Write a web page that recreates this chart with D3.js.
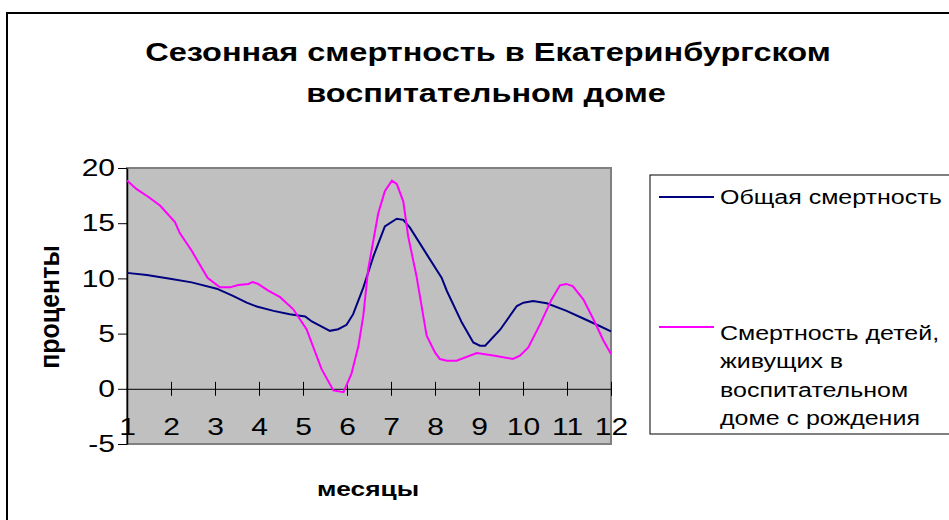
<!DOCTYPE html>
<html>
<head>
<meta charset="utf-8">
<script src="https://cdn.jsdelivr.net/npm/d3@7"></script>
<style>
  html, body { margin: 0; padding: 0; background: #fff; }
  svg { display: block; font-family: "Liberation Sans", Arial, sans-serif; }
</style>
</head>
<body>
<svg id="chart" width="949" height="520"></svg>
<script>
// Month positions (fractional) and values
const aMonthsTotal = [1, 1.45, 1.98, 2.47, 3.04, 3.42, 3.72, 3.95, 4.33, 4.7, 5.05, 5.2, 5.61, 5.8, 5.99,
  6.14, 6.37, 6.6, 6.86, 7.13, 7.28, 7.43, 7.81, 8.15, 8.27, 8.61, 8.87, 9.02, 9.14, 9.48, 9.86,
  10.01, 10.23, 10.54, 10.99, 11.37, 11.68, 12];
const aTotalValues = [10.5, 10.3, 9.97, 9.64, 9.07, 8.4, 7.8, 7.45, 7.06, 6.76, 6.55, 6.1, 5.25, 5.4, 5.8,
  6.76, 9.16, 12.0, 14.7, 15.4, 15.3, 14.6, 12.2, 10.06, 8.86, 6.0, 4.2, 3.9, 3.9, 5.35, 7.5,
  7.8, 7.96, 7.75, 7.06, 6.37, 5.8, 5.2];

const aMonthsChildren = [1, 1.22, 1.48, 1.75, 2.09, 2.2, 2.47, 2.83, 3.11, 3.34, 3.53, 3.76, 3.85, 3.97,
  4.21, 4.48, 4.78, 5.08, 5.42, 5.69, 5.92, 6.1, 6.26, 6.37, 6.48, 6.71, 6.86, 7.02, 7.13, 7.28,
  7.39, 7.58, 7.81, 8.0, 8.11, 8.27, 8.49, 8.95, 9.36, 9.77, 9.93, 10.12, 10.39, 10.65, 10.84,
  10.98, 11.13, 11.37, 11.6, 11.83, 12];
const aChildrenValues = [18.86, 18.08, 17.4, 16.6, 15.1, 14.1, 12.5, 10.06, 9.19, 9.19, 9.4, 9.5, 9.67, 9.52,
  8.9, 8.3, 7.2, 5.4, 1.8, -0.15, -0.3, 1.35, 3.9, 6.6, 10.8, 15.9, 17.9, 18.86, 18.56, 16.96,
  13.8, 10.2, 4.8, 3.3, 2.7, 2.55, 2.55, 3.24, 3.0, 2.7, 3.0, 3.75, 5.86, 8.1, 9.37,
  9.5, 9.3, 8.1, 6.3, 4.35, 3.15];

const aXTicks = [1, 2, 3, 4, 5, 6, 7, 8, 9, 10, 11, 12];
const aYTicks = [-5, 0, 5, 10, 15, 20];

const aSeries = [
  { sName: ['Общая смертность'], sColour: '#000080', aX: aMonthsTotal, aY: aTotalValues },
  { sName: ['Смертность детей,', 'живущих в', 'воспитательном', 'доме с рождения'], sColour: '#ff00ff',
    aX: aMonthsChildren, aY: aChildrenValues }
];

const oSvg = d3.select('#chart');
const jPlot = { l: 127, r: 611, t: 168, b: 444 };
// the source picture is stretched sideways, so text is too
const fStretch = 1.25;

// Add a text whose glyphs are widened like in the source
const fnText = (iX, iY, sText, iSize, sWeight = 'normal', sAnchor = 'start', sRotate = '', fScale = fStretch) => oSvg.append('text')
  .attr('transform', `translate(${iX}, ${iY}) scale(${fScale}, 1) ${sRotate}`)
  .attr('text-anchor', sAnchor)
  .attr('font-size', iSize)
  .attr('font-weight', sWeight)
  .attr('fill', '#000')
  .text(sText);

// Outer chart frame
oSvg.append('rect')
  .attr('x', 7).attr('y', 13).attr('width', 980).attr('height', 560)
  .attr('fill', 'none').attr('stroke', '#000').attr('stroke-width', 2);

// Title
fnText(488, 61, 'Сезонная смертность в Екатеринбургском', 26, 'bold', 'middle');
fnText(486, 102, 'воспитательном доме', 26, 'bold', 'middle');

const oX = d3.scaleLinear().domain([1, 12]).range([jPlot.l, jPlot.r]);
const oY = d3.scaleLinear().domain([-5, 20]).range([jPlot.b, jPlot.t]);

// Plot area
oSvg.append('rect')
  .attr('x', jPlot.l).attr('y', jPlot.t)
  .attr('width', jPlot.r - jPlot.l).attr('height', jPlot.b - jPlot.t)
  .attr('fill', '#c0c0c0').attr('stroke', '#808080').attr('stroke-width', 2);

// Y axis
const oYAxisG = oSvg.append('g')
  .attr('transform', `translate(${jPlot.l}, 0)`)
  .call(d3.axisLeft(oY).tickValues(aYTicks).tickFormat(d => String(d))
    .tickSize(9).tickSizeOuter(0).tickPadding(0.6));
oYAxisG.select('.domain').attr('stroke', '#000').attr('stroke-width', 1.5);
oYAxisG.selectAll('.tick line').attr('stroke', '#000');
oYAxisG.selectAll('.tick text')
  .attr('transform', `scale(${fStretch}, 1)`)
  .attr('font-size', 24).attr('font-family', '"Liberation Sans", Arial, sans-serif').attr('fill', '#000');

// X axis crossing at zero, ticks on both sides
const oXAxisG = oSvg.append('g')
  .attr('transform', `translate(0, ${oY(0)})`)
  .call(d3.axisBottom(oX).tickValues(aXTicks).tickSize(7).tickSizeOuter(0));
oXAxisG.select('.domain').attr('stroke', '#000');
oXAxisG.selectAll('.tick line').attr('y1', -7).attr('stroke', '#000');
oXAxisG.selectAll('.tick text')
  .attr('transform', `scale(${fStretch}, 1)`)
  .attr('y', 29.4).attr('dy', '0.71em')
  .attr('font-size', 24).attr('font-family', '"Liberation Sans", Arial, sans-serif').attr('fill', '#000');

// Series lines
const fnLine = (s) => d3.line()
  .x((d, i) => oX(s.aX[i]))
  .y(d => oY(d))(s.aY);

oSvg.append('g').selectAll('path.series')
  .data(aSeries)
  .enter()
  .append('path')
  .attr('class', 'series')
  .attr('d', fnLine)
  .attr('fill', 'none')
  .attr('stroke', d => d.sColour)
  .attr('stroke-width', 2);

// Axis titles
fnText(368, 496, 'месяцы', 21, 'bold', 'middle');
fnText(59, 307, 'проценты', 25, 'bold', 'middle', 'rotate(-90)', 1.1);

// Legend
oSvg.append('rect')
  .attr('x', 650).attr('y', 175).attr('width', 320).attr('height', 259)
  .attr('fill', '#fff').attr('stroke', '#000').attr('stroke-width', 1);

const aLegendY = [197, 327];
aSeries.forEach((s, i) => {
  oSvg.append('line')
    .attr('x1', 659).attr('x2', 714)
    .attr('y1', aLegendY[i]).attr('y2', aLegendY[i])
    .attr('stroke', s.sColour).attr('stroke-width', 2);
  s.sName.forEach((sLine, j) => {
    fnText(720, aLegendY[i] + 7 + (i ? 6 : 0) + j * 28.4, sLine, 20);
  });
});
</script>
</body>
</html>
